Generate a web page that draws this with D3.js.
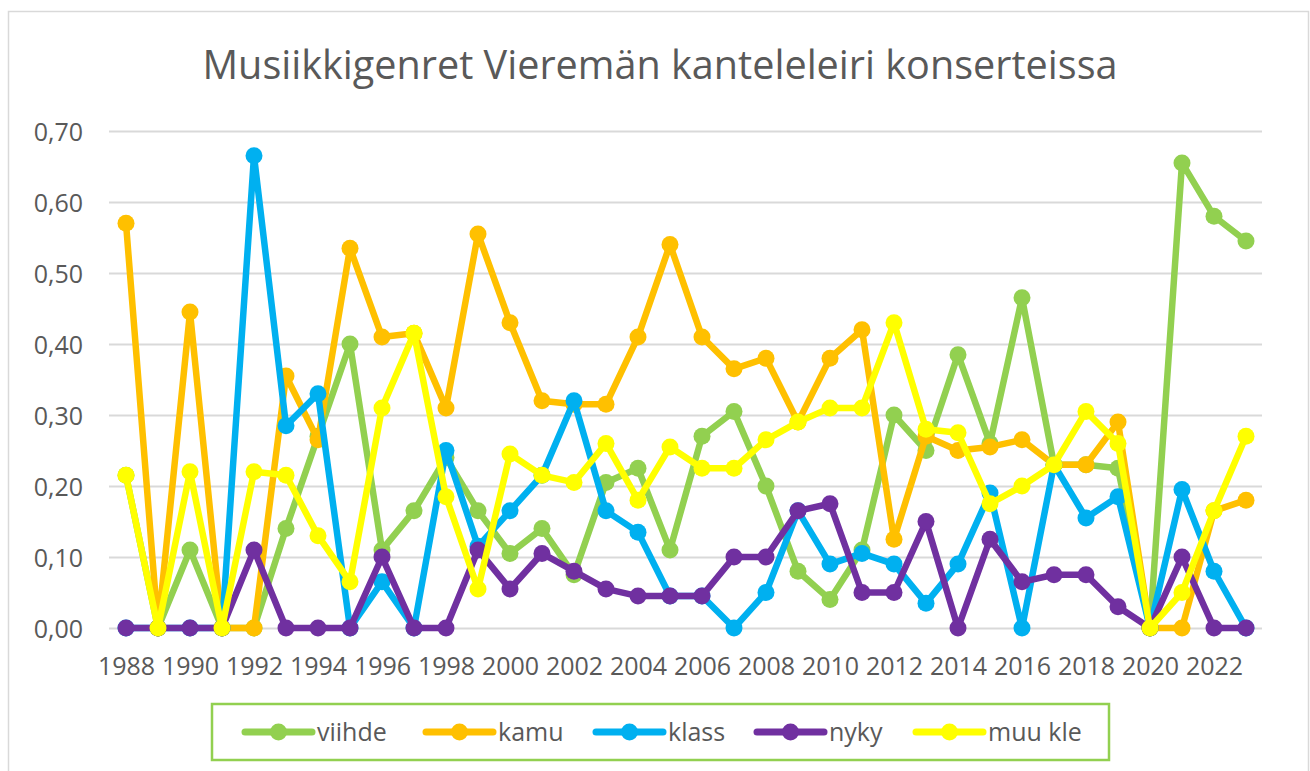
<!DOCTYPE html>
<html><head><meta charset="utf-8">
<script src="https://cdn.jsdelivr.net/npm/d3@7"></script>
<style>
html,body{margin:0;padding:0;background:#fff;}
svg{display:block;font-family:"Open Sans",sans-serif;}
</style></head>
<body><svg id="chart" width="1310" height="771"></svg>
<script>
const years = [1988,1989,1990,1991,1992,1993,1994,1995,1996,1997,1998,1999,2000,2001,2002,2003,2004,2005,2006,2007,2008,2009,2010,2011,2012,2013,2014,2015,2016,2017,2018,2019,2020,2021,2022,2023];
const viihde = [0.215,0,0.11,0,0,0.14,0.27,0.40,0.11,0.165,0.24,0.165,0.105,0.14,0.075,0.205,0.225,0.11,0.27,0.305,0.20,0.08,0.04,0.11,0.30,0.25,0.385,0.26,0.465,0.23,0.23,0.225,0,0.655,0.58,0.545];
const kamu = [0.57,0,0.445,0,0,0.355,0.265,0.535,0.41,0.415,0.31,0.555,0.43,0.32,0.315,0.315,0.41,0.54,0.41,0.365,0.38,0.29,0.38,0.42,0.125,0.27,0.25,0.255,0.265,0.23,0.23,0.29,0,0,0.165,0.18];
const klass = [0,0,0,0,0.665,0.285,0.33,0,0.065,0,0.25,0.115,0.165,0.215,0.32,0.165,0.135,0.045,0.045,0,0.05,0.165,0.09,0.105,0.09,0.035,0.09,0.19,0,0.23,0.155,0.185,0,0.195,0.08,0];
const nyky = [0,0,0,0,0.11,0,0,0,0.10,0,0,0.11,0.055,0.105,0.08,0.055,0.045,0.045,0.045,0.10,0.10,0.165,0.175,0.05,0.05,0.15,0,0.125,0.065,0.075,0.075,0.03,0,0.10,0,0];
const muuKle = [0.215,0,0.22,0,0.22,0.215,0.13,0.065,0.31,0.415,0.185,0.055,0.245,0.215,0.205,0.26,0.18,0.255,0.225,0.225,0.265,0.29,0.31,0.31,0.43,0.28,0.275,0.175,0.20,0.23,0.305,0.26,0,0.05,0.165,0.27];
const seriesNames = ["viihde","kamu","klass","nyky","muu kle"];
const seriesColors = ["#92D050","#FFC000","#00B0F0","#7030A0","#FFFF00"];
const yTicks = [0,0.1,0.2,0.3,0.4,0.5,0.6,0.7];
const xTickYears = [1988,1990,1992,1994,1996,1998,2000,2002,2004,2006,2008,2010,2012,2014,2016,2018,2020,2022];
const titleText = "Musiikkigenret Vieremän kanteleleiri konserteissa";

const series = [viihde,kamu,klass,nyky,muuKle].map((vals,i)=>({name:seriesNames[i],color:seriesColors[i],values:vals}));

const svg = d3.select("#chart");
// outer frame
svg.append("rect").attr("x",8.5).attr("y",11.5).attr("width",1300).attr("height",780)
  .attr("fill","#fff").attr("stroke","#d9d9d9").attr("stroke-width",1.5);

// title
svg.append("text").attr("x",660).attr("y",79).attr("text-anchor","middle")
  .attr("fill","#595959").attr("font-size",40)
  .attr("textLength",915).attr("lengthAdjust","spacingAndGlyphs")
  .text(titleText);

const x = d3.scalePoint().domain(years).range([110,1262]).padding(0.5);
const y = d3.scaleLinear().domain([0,0.7]).range([628,131]);

// gridlines
const yAxis = d3.axisLeft(y).tickValues(yTicks).tickSize(-(1262-109)).tickPadding(26)
  .tickFormat(d=>d3.format(".2f")(d).replace(".",","));
const gy = svg.append("g").attr("transform","translate(109,0)").call(yAxis);
gy.select(".domain").remove();
gy.selectAll(".tick line").attr("stroke","#d9d9d9").attr("stroke-width",2);
gy.selectAll(".tick text").attr("fill","#595959").attr("font-size",25)
  .attr("font-family","'Open Sans',sans-serif").attr("dy","0.36em");

// x axis labels
const xAxis = d3.axisBottom(x).tickValues(xTickYears).tickSize(0).tickPadding(0);
const gx = svg.append("g").attr("transform","translate(0,675)").call(xAxis);
gx.select(".domain").remove();
gx.selectAll(".tick text").attr("fill","#595959").attr("font-size",25)
  .attr("font-family","'Open Sans',sans-serif").attr("dy",0).attr("y",0);

// lines and markers
const line = d3.line().x((d,i)=>x(years[i])).y(d=>y(d));
series.forEach(s=>{
  const g = svg.append("g");
  g.append("path").attr("d",line(s.values)).attr("fill","none").attr("stroke",s.color)
    .attr("stroke-width",6.5).attr("stroke-linejoin","round").attr("stroke-linecap","round");
  g.selectAll("circle").data(s.values).join("circle")
    .attr("cx",(d,i)=>x(years[i])).attr("cy",d=>y(d)).attr("r",8.5).attr("fill",s.color);
});

// legend
svg.append("rect").attr("x",212).attr("y",704).attr("width",897).attr("height",56)
  .attr("fill","#fff").attr("stroke","#92D050").attr("stroke-width",2.5);
const legendX = [245,426,596,757,916];
series.forEach((s,i)=>{
  const g = svg.append("g").attr("transform",`translate(${legendX[i]},732)`);
  g.append("line").attr("x1",0).attr("x2",67).attr("stroke",s.color).attr("stroke-width",7).attr("stroke-linecap","round");
  g.append("circle").attr("cx",33.5).attr("cy",0).attr("r",8.5).attr("fill",s.color);
  g.append("text").attr("x",72).attr("y",9).attr("fill","#595959").attr("font-size",25).text(s.name);
});
</script></body></html>
